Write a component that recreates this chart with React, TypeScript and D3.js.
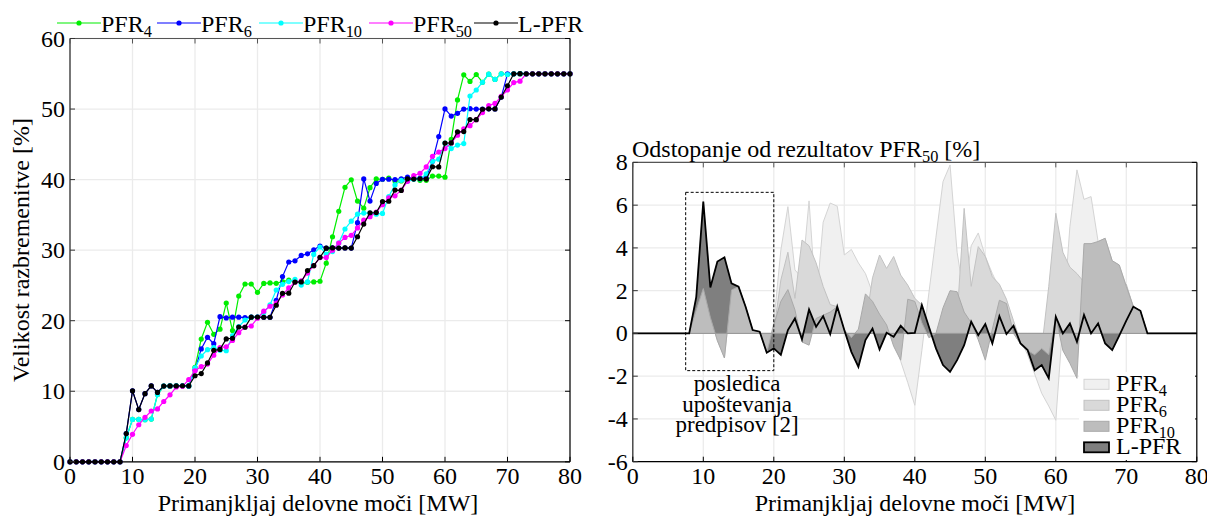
import React from 'react';
import * as d3 from 'd3';

// Primanjkljaj delovne moci [MW], 0..80
const mw = d3.range(0, 81);

// PFR50 result (left chart, magenta) [%]
const pfr50 = [
  0, 0, 0, 0, 0, 0, 0, 0, 0, 2.3,
  3.9, 5.25, 6.3, 7.2, 7.5, 8.55, 9.5, 10.6, 10.7, 11.65,
  12.9, 13.5, 13.85, 15.1, 16.2, 16.3, 17.2, 18.3, 19.1, 19.25,
  20.35, 21.35, 22.05, 22.5, 23.65, 24.65, 25.45, 25.65, 26.75, 27.8,
  28.95, 28.95, 30.0, 31.0, 31.8, 32.1, 33.15, 34.25, 34.75, 35.4,
  36.45, 37.4, 37.7, 38.5, 39.75, 40.55, 40.9, 41.8, 43.3, 43.9,
  44.4, 45.2, 46.3, 47.2, 47.65, 48.5, 49.5, 50.5, 50.8, 51.8,
  52.7, 53.75, 53.95, 55, 55, 55, 55, 55, 55, 55, 55,
];

// Odstopanje od rezultatov PFR50 (right chart) [%]
const devPFR4 = [
  0, 0, 0, 0, 0, 0, 0, 0, 0, 1.1,
  2.1, 0.75, -0.34, -1.15, 2.03, 2.19, 1.25, 0.16, 0.08, -0.9,
  0.5, 3.9, 5.93, 2.97, 2.6, 6.2, 1.4, 5.2, 6.1, 5.95,
  3.67, 3.93, 3.3, 2.8, 1.9, 1.1, 0.1, -0.2, -1.3, -2.3,
  -3.36, -0.8, 1.9, 4.5, 7.1, 7.88, 3.8, 1.7, 4.1, 4.7,
  3.6, 2.8, 2.1, 1.3, 0.4, -0.3, -1.0, -1.9, -2.8, -3.4,
  -4.06, 0.5, 5.0, 7.65, 6.27, 6.4, 4.3, 4.45, 3.4, 3.2,
  2.2, 1.25, 1.06, 0, 0, 0, 0, 0, 0, 0, 0,
];
const devPFR6 = [
  0, 0, 0, 0, 0, 0, 0, 0, 0, 1.7,
  6.17, 2.15, 3.36, 3.56, 2.34, 2.19, 1.25, 0.16, 0.08, -0.9,
  0.1, 2.5, 3.8, 1.64, 4.37, 4.1, 3.3, 2.2, 1.35, 1.25,
  0.16, -0.86, -1.56, 0.4, 2.6, 3.67, 3.04, 3.6, 2.73, 2.26,
  1.64, 1.33, 0.31, -0.7, -1.48, -1.8, 0.75, 5.85, 2.2, 4.06,
  3.6, 2.65, 2.3, 1.6, 0.6, -0.4, -0.7, -1.6, -0.7, 2.2,
  5.62, 3.8, 3.1, 2.8, 2.4, 1.5, 0.5, -0.47, -0.78, -0.1,
  2.3, 1.25, 1.06, 0, 0, 0, 0, 0, 0, 0, 0,
];
const devPFR10 = [
  0, 0, 0, 0, 0, 0, 0, 0, 0, 1.1,
  2.1, 0.75, -0.34, -1.15, 2.03, 2.19, 1.25, 0.16, 0.08, -0.9,
  0.4, 1.5, 2.05, 1.1, -0.4, -0.55, 0.7, 0.85, 1.0, 1.25,
  0.16, -0.2, 0.2, 1.85, 1.5, 0.9, 0.4, -0.6, -1.25, 1.6,
  1.5, 0.5, -0.2, 0, 1.2, 2.0, 1.95, 1.0, 0.5, -0.3,
  -1.25, 0.2, 1.55, 1.4, 0, -0.5, -0.8, -1.0, -0.7, -1.0,
  0.78, -0.8, -1.4, -2.1, 4.2, 4.2, 4.3, 4.45, 3.4, 3.2,
  2.2, 1.25, 1.06, 0, 0, 0, 0, 0, 0, 0, 0,
];
const devLPFR = [
  0, 0, 0, 0, 0, 0, 0, 0, 0, 1.7,
  6.17, 2.15, 3.36, 3.56, 2.34, 2.19, 1.25, 0.16, 0.08, -0.9,
  -0.7, -1.0, 0.16, 0.7, -0.27, 1.12, 0.31, 0.81, -0.03, 1.25,
  0.16, -0.86, -1.56, -0.31, 0.23, -0.75, 0.03, -0.16, 0.36, 0,
  0.03, 1.33, 0.31, -0.7, -1.48, -1.8, -1.25, -0.55, 0.55, -0.08,
  0.44, -0.47, 0.81, -0.03, 0.36, -0.47, -0.78, -1.72, -1.48, -2.1,
  0.78, 0, 0.47, -0.39, 0.86, 0, 0.47, -0.47, -0.78, -0.1,
  0.6, 1.25, 1.06, 0, 0, 0, 0, 0, 0, 0, 0,
];

const xTicks = [0, 10, 20, 30, 40, 50, 60, 70, 80];
const yTicksLeft = [0, 10, 20, 30, 40, 50, 60];
const yTicksRight = [-6, -4, -2, 0, 2, 4, 6, 8];

const FONT = "'Liberation Serif', 'Times New Roman', 'DejaVu Serif', serif";
const serif = { fontFamily: FONT };

// left chart series (value = PFR50 + deviation)
const leftSeries = [
  { name: 'PFR', sub: '4', color: '#00ee00', dev: devPFR4 },
  { name: 'PFR', sub: '6', color: '#0000ff', dev: devPFR6 },
  { name: 'PFR', sub: '10', color: '#00ffff', dev: devPFR10 },
  { name: 'PFR', sub: '50', color: '#ff00ff', dev: mw.map(() => 0) },
  { name: 'L-PFR', sub: '', color: '#000000', dev: devLPFR },
];

const Label = ({ x, y, name, sub, after = '', anchor = 'start', size = 24 }) => (
  <text x={x} y={y} fontSize={size} textAnchor={anchor} style={serif} fill="#000">
    {name}
    {sub && <tspan fontSize={size * 0.68} dy={5}>{sub}</tspan>}
    {after && <tspan dy={-5}>{after}</tspan>}
  </text>
);

const Grid = ({ x, y, xt, yt }) => {
  const [x0, x1] = x.range();
  const [y0, y1] = y.range();
  return (
    <g>
      {xt.map(t => (
        <line key={'gx' + t} x1={x(t)} x2={x(t)} y1={y0} y2={y1} stroke="#ebebeb" strokeWidth={1.3} />
      ))}
      {yt.map(t => (
        <line key={'gy' + t} x1={x0} x2={x1} y1={y(t)} y2={y(t)} stroke="#ebebeb" strokeWidth={1.3} />
      ))}
    </g>
  );
};

const Axes = ({ x, y, xt, yt }) => {
  const [x0, x1] = x.range();
  const [y0, y1] = y.range();
  return (
    <g style={serif} fontSize={24}>
      <line x1={x0} x2={x1} y1={y1} y2={y1} stroke="#555" strokeWidth={1.2} />
      <line x1={x0} x2={x0} y1={y0} y2={y1} stroke="#333" strokeWidth={1.3} />
      <line x1={x1} x2={x1} y1={y0} y2={y1} stroke="#000" strokeWidth={1.2} />
      <line x1={x0} x2={x1} y1={y0} y2={y0} stroke="#000" strokeWidth={1.3} />
      {xt.map(t => (
        <g key={'tx' + t}>
          <line x1={x(t)} x2={x(t)} y1={y1} y2={y1 + 5} stroke="#555" />
          <line x1={x(t)} x2={x(t)} y1={y0} y2={y0 - 5} stroke="#000" />
          <text x={x(t)} y={y0 + 22} textAnchor="middle">{t}</text>
        </g>
      ))}
      {yt.map(t => (
        <g key={'ty' + t}>
          <line x1={x1} x2={x1 - 5} y1={y(t)} y2={y(t)} stroke="#000" />
          <line x1={x0} x2={x0 + 5} y1={y(t)} y2={y(t)} stroke="#333" />
          <text x={x0 - 5} y={y(t) + 8} textAnchor="end">{t}</text>
        </g>
      ))}
    </g>
  );
};

const LeftChart = () => {
  const x = d3.scaleLinear().domain([0, 80]).range([70, 570]);
  const y = d3.scaleLinear().domain([0, 60]).range([461.8, 38.5]);
  const line = d3.line<number>().x((_, i) => x(mw[i])).y(v => y(v));
  const legendX = [57, 157, 259, 369, 474];
  return (
    <g>
      <Grid x={x} y={y} xt={xTicks} yt={yTicksLeft} />
      {leftSeries.map(s => {
        const vals = pfr50.map((p, i) => p + s.dev[i]);
        return (
          <g key={s.name + s.sub}>
            <path d={line(vals)} fill="none" stroke={s.color} strokeWidth={1.2} />
            {vals.map((v, i) => (
              <circle key={i} cx={x(mw[i])} cy={y(v)} r={2.6} fill={s.color} />
            ))}
          </g>
        );
      })}
      <Axes x={x} y={y} xt={xTicks} yt={yTicksLeft} />
      {leftSeries.map((s, k) => (
        <g key={'lg' + k}>
          <line x1={legendX[k]} x2={legendX[k] + 44} y1={23} y2={23} stroke={s.color} strokeWidth={1.2} />
          <circle cx={legendX[k] + 22} cy={23} r={2.6} fill={s.color} />
          <Label x={legendX[k] + 44} y={32} name={s.name} sub={s.sub} />
        </g>
      ))}
      <text x={318} y={511} textAnchor="middle" style={serif} fontSize={24}>
        Primanjkljaj delovne moči [MW]
      </text>
      <text transform="translate(29,250) rotate(-90)" textAnchor="middle" style={serif} fontSize={24}>
        Velikost razbremenitve [%]
      </text>
    </g>
  );
};

const rightSeries = [
  { name: 'PFR', sub: '4', fill: '#f0f0f0', stroke: '#d4d4d4', sw: 1, dev: devPFR4 },
  { name: 'PFR', sub: '6', fill: '#d9d9d9', stroke: '#c2c2c2', sw: 1, dev: devPFR6 },
  { name: 'L-PFR', sub: '', fill: '#7f7f7f', stroke: 'none', sw: 0, dev: devLPFR },
  { name: 'PFR', sub: '10', fill: '#bdbdbd', stroke: '#a9a9a9', sw: 1, dev: devPFR10 },
];
const legendOrder = [0, 1, 3, 2];

const RightChart = () => {
  const x = d3.scaleLinear().domain([0, 80]).range([632.8, 1196.8]);
  const y = d3.scaleLinear().domain([-6, 8]).range([461.7, 162.4]);
  const area = d3.area<number>().x((_, i) => x(mw[i])).y0(y(0)).y1(v => y(v));
  const line = d3.line<number>().x((_, i) => x(mw[i])).y(v => y(v));
  return (
    <g>
      <Grid x={x} y={y} xt={xTicks} yt={yTicksRight} />
      {rightSeries.map(s => (
        <path key={s.name + s.sub} d={area(s.dev)} fill={s.fill} stroke={s.stroke} strokeWidth={s.sw} />
      ))}
      <line x1={x(0)} x2={x(80)} y1={y(0)} y2={y(0)} stroke="#999" strokeWidth={1} />
      <path d={line(devLPFR)} fill="none" stroke="#000" strokeWidth={1.8} />
      <rect x={x(7.5)} y={y(6.6)} width={x(20) - x(7.5)} height={y(-1.74) - y(6.6)}
        fill="none" stroke="#000" strokeWidth={1} strokeDasharray="3,2" />
      <g style={serif} fontSize={23} textAnchor="middle">
        <text x={x(14.8)} y={391}>posledica</text>
        <text x={x(14.8)} y={411.5}>upoštevanja</text>
        <text x={x(14.8)} y={432}>predpisov [2]</text>
      </g>
      <Axes x={x} y={y} xt={xTicks} yt={yTicksRight} />
      <rect x={1079} y={372} width={116} height={88} fill="#fff" />
      {legendOrder.map((k, r) => {
        const s = rightSeries[k];
        const cy = 384.3 + r * 21;
        return (
          <g key={'rl' + k}>
            <rect x={1084} y={cy - 5} width={25} height={10} fill={s.fill}
              stroke={s.name === 'L-PFR' ? '#000' : s.stroke} strokeWidth={s.name === 'L-PFR' ? 1.8 : 1} />
            <Label x={1116} y={cy + 7} name={s.name} sub={s.sub} />
          </g>
        );
      })}
      <Label x={632} y={157} name="Odstopanje od rezultatov PFR" sub="50" after=" [%]" />
      <text x={915} y={511} textAnchor="middle" style={serif} fontSize={24}>
        Primanjkljaj delovne moči [MW]
      </text>
    </g>
  );
};

export default function App() {
  return (
    <svg width={1207} height={517} style={{ position: 'fixed', left: 0, top: 0, background: '#fff' }}>
      <rect width={1207} height={517} fill="#fff" />
      <LeftChart />
      <RightChart />
    </svg>
  );
}
